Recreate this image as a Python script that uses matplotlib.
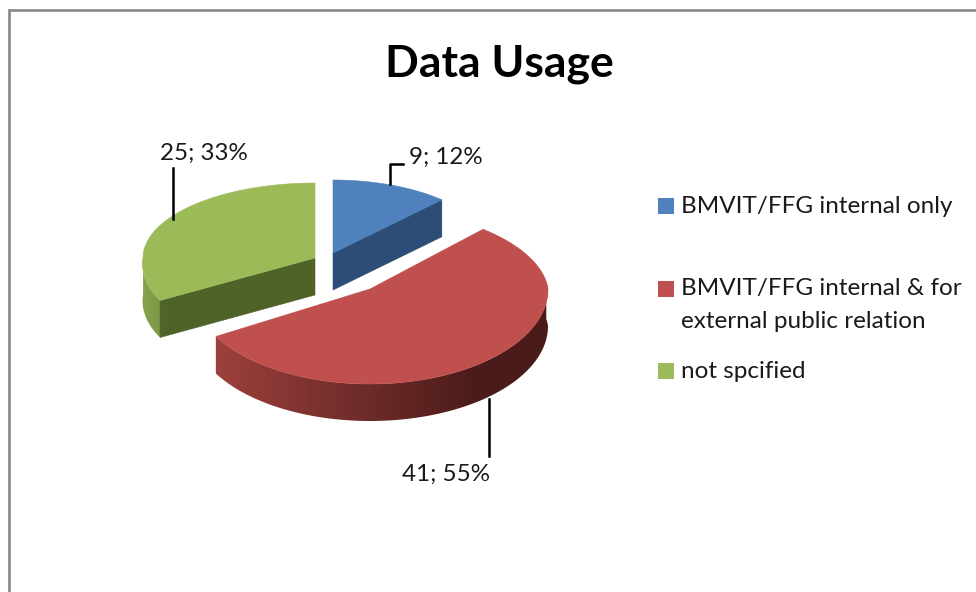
import numpy as np
import matplotlib
matplotlib.use('Agg')
import matplotlib.pyplot as plt
from matplotlib.colors import to_rgb
from matplotlib.patches import Polygon

plt.rcParams['font.family'] = ['Lato', 'DejaVu Sans']

title = 'Data Usage'
names = ['BMVIT/FFG internal only', 'BMVIT/FFG internal & for\nexternal public relation', 'not spcified']
values = [9, 41, 25]
top_colors = ['#4f81bd', '#c0504d', '#9bbb59']

total = sum(values)
edges = np.cumsum([0] + values) / total * 360.0
labels = ['%d; %d%%' % (v, round(v * 100.0 / total)) for v in values]

fig = plt.figure(figsize=(9.76, 5.92), dpi=100)
ax = fig.add_axes([0, 0, 1, 1])
ax.axis('off')

# chart frame, runs off the right and bottom of the picture
ax.plot([9, 9, 980], [596, 10, 10], color='#868686', lw=1.9, solid_joinstyle='miter')

depth = 37


def rim(a, cx, cy, rx, ry_back, ry_front, skew=0, front_skew=0):
    t = np.radians(a)
    ry = np.where(np.cos(t) > 0, ry_back, ry_front)
    x = cx + rx * np.sin(t) - skew * np.maximum(np.cos(t), 0) - front_skew * np.maximum(-np.cos(t), 0)
    y = cy - ry * np.cos(t)
    return x, y


def side_wall(a0, a1, geom, c0, c1, x0, x1):
    # outer wall of a slice, a left to right shade clipped to the wall outline
    a = np.linspace(a0, a1, 200)
    x, y = rim(a, *geom)
    outline = np.c_[np.r_[x, x[::-1]], np.r_[y, y[::-1] + depth]]
    c0, c1 = np.array(to_rgb(c0)), np.array(to_rgb(c1))
    xs = np.arange(x.min() - 2, x.max() + 3)
    f = np.clip((xs - x0) / (x1 - x0), 0, 1)[None, :, None]
    img = c0[None, None, :] + (c1 - c0)[None, None, :] * f
    im = ax.imshow(img, extent=[xs[0], xs[-1], outline[:, 1].max() + 2, outline[:, 1].min() - 2],
                   aspect='auto', interpolation='bilinear')
    im.set_clip_path(Polygon(outline, transform=ax.transData))


def top_face(a0, a1, geom, color):
    a = np.linspace(a0, a1, 150)
    x, y = rim(a, *geom)
    ax.fill(np.r_[geom[0], x], np.r_[geom[1], y], color=color, lw=0.4)


def flat_side(a, geom, color):
    x, y = rim(np.array(a), *geom)
    ax.fill([geom[0], x, x, geom[0]],
            [geom[1], y, y + depth, geom[1] + depth], color=color, lw=0.4)


blue = (333, 253, 159, 73, 85)
red = (370, 289, 178, 82, 95, 12)
green = (315, 258, 172, 75, 85, 0, 12)

# blue slice
flat_side(edges[1], blue, '#2c4d75')
top_face(edges[0], edges[1], blue, top_colors[0])

# green slice
side_wall(edges[2], 272, green, '#86a34c', '#7b9646', 140, 165)
flat_side(edges[2], green, '#4f6228')
top_face(edges[2], edges[3], green, top_colors[2])

# red slice
side_wall(85, edges[2], red, '#9c403d', '#4a1b19', 215, 480)
top_face(edges[1], edges[2], red, top_colors[1])

# leader lines
ax.plot([173, 173], [168, 219], color='black', lw=1.8)
ax.plot([390, 390, 403], [184, 164, 164], color='black', lw=1.8)
ax.plot([489, 489], [399, 456], color='black', lw=1.8)

ax.text(499, 64, title, fontsize=32, fontweight='bold', ha='center', va='center', color='black')

text_col = '#1a1a1a'
ax.text(204, 153, labels[2], fontsize=17.4, ha='center', va='center', color=text_col)
ax.text(446, 157, labels[0], fontsize=17.4, ha='center', va='center', color=text_col)
ax.text(446, 474, labels[1], fontsize=17.4, ha='center', va='center', color=text_col)

# legend
key_y = [206, 289, 371]
text_y = [206.5, 289, 371]
for i in range(3):
    ax.fill([658, 674, 674, 658],
            [key_y[i] - 8, key_y[i] - 8, key_y[i] + 8, key_y[i] + 8],
            color=top_colors[i], lw=0)
    ax.text(681, text_y[i], names[i].split('\n')[0], fontsize=17.5, va='center', color=text_col)
ax.text(681, 321.5, names[1].split('\n')[1], fontsize=17.5, va='center', color=text_col)

ax.set_xlim(0, 976)
ax.set_ylim(592, 0)

plt.savefig('out.png', dpi=100)
